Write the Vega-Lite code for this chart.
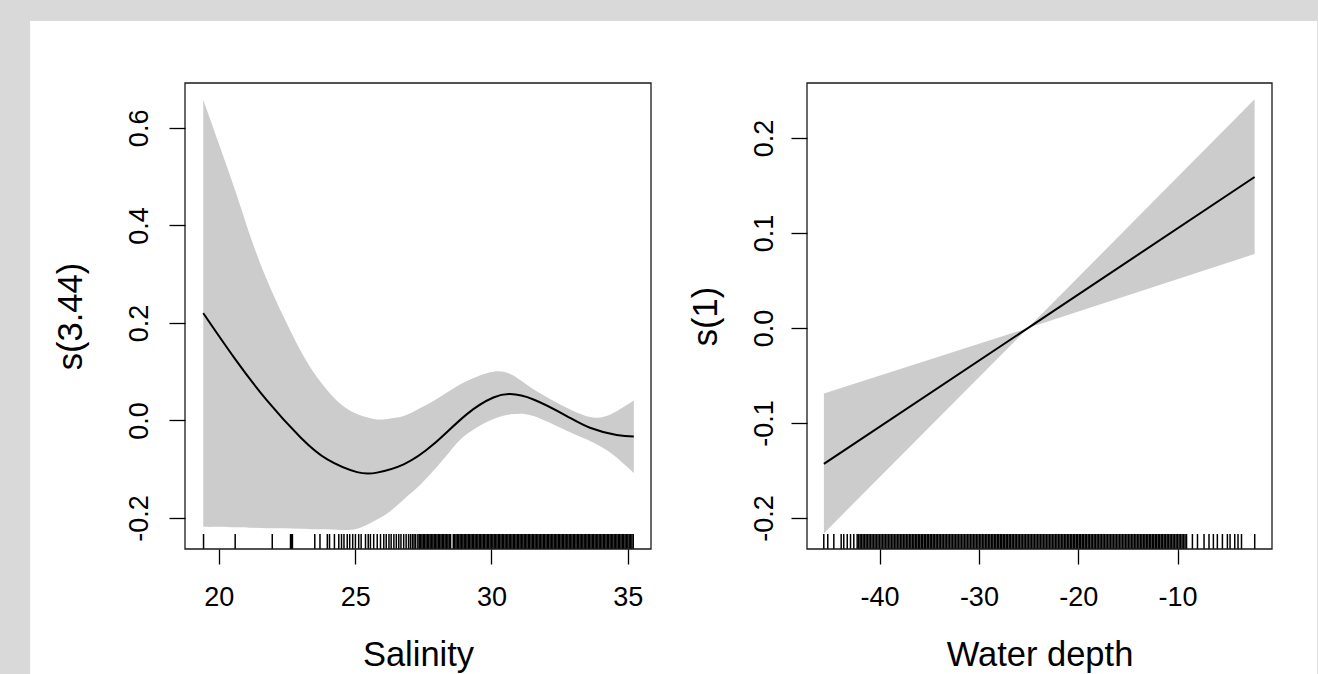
{
  "$schema": "https://vega.github.io/schema/vega-lite/v6.json",
  "background": "#d9d9d9",
  "padding": {"left": 30, "top": 20, "right": 0, "bottom": 0},
  "autosize": {"type": "pad"},
  "bounds": "flush",
  "spacing": 156,
  "config": {
    "font": "Liberation Sans",
    "view": {"stroke": null},
    "axis": {
      "domain": false, "grid": false, "zindex": 1,
      "tickColor": "black", "tickWidth": 1.3,
      "labelColor": "black", "labelFont": "Liberation Sans", "labelFontSize": 27,
      "titleColor": "black", "titleFont": "Liberation Sans", "titleFontSize": 34.5, "titleFontWeight": "normal",
      "labelFlush": false, "labelOverlap": false
    },
    "axisX": {"tickSize": 15, "labelPadding": 20, "titlePadding": 28},
    "axisY": {"tickSize": 16, "labelAngle": -90, "labelAlign": "center", "labelBaseline": "alphabetic", "labelPadding": 22, "titlePadding": 27}
  },
  "datasets": {
    "salFit": [
      {"Salinity": 19.43, "fit": 0.220}, {"Salinity": 20.56, "fit": 0.129}, {"Salinity": 21.78, "fit": 0.040},
      {"Salinity": 23.00, "fit": -0.035}, {"Salinity": 23.98, "fit": -0.080}, {"Salinity": 25.07, "fit": -0.106},
      {"Salinity": 25.80, "fit": -0.107}, {"Salinity": 26.78, "fit": -0.090}, {"Salinity": 27.87, "fit": -0.049},
      {"Salinity": 29.10, "fit": 0.013}, {"Salinity": 30.07, "fit": 0.047}, {"Salinity": 30.68, "fit": 0.054},
      {"Salinity": 31.54, "fit": 0.043}, {"Salinity": 32.76, "fit": 0.009}, {"Salinity": 33.61, "fit": -0.015},
      {"Salinity": 34.59, "fit": -0.030}, {"Salinity": 35.22, "fit": -0.033}
    ],
    "salBand": [
      {"Salinity": 19.43, "lower": -0.218, "upper": 0.657}, {"Salinity": 20.56, "lower": -0.219, "upper": 0.478},
      {"Salinity": 21.17, "lower": -0.220, "upper": 0.375}, {"Salinity": 21.78, "lower": -0.221, "upper": 0.286},
      {"Salinity": 22.39, "lower": -0.221, "upper": 0.211}, {"Salinity": 23.00, "lower": -0.222, "upper": 0.143},
      {"Salinity": 23.61, "lower": -0.223, "upper": 0.088}, {"Salinity": 24.34, "lower": -0.224, "upper": 0.040},
      {"Salinity": 25.07, "lower": -0.222, "upper": 0.013}, {"Salinity": 25.80, "lower": -0.203, "upper": 0.002},
      {"Salinity": 26.29, "lower": -0.186, "upper": 0.004}, {"Salinity": 26.78, "lower": -0.162, "upper": 0.009},
      {"Salinity": 27.27, "lower": -0.138, "upper": 0.022}, {"Salinity": 27.87, "lower": -0.103, "upper": 0.040},
      {"Salinity": 28.50, "lower": -0.062, "upper": 0.062}, {"Salinity": 29.10, "lower": -0.028, "upper": 0.081},
      {"Salinity": 30.07, "lower": 0.003, "upper": 0.100}, {"Salinity": 30.80, "lower": 0.013, "upper": 0.092},
      {"Salinity": 31.54, "lower": 0.009, "upper": 0.064}, {"Salinity": 32.76, "lower": -0.021, "upper": 0.026},
      {"Salinity": 33.73, "lower": -0.045, "upper": 0.006}, {"Salinity": 34.45, "lower": -0.070, "upper": 0.015},
      {"Salinity": 35.22, "lower": -0.108, "upper": 0.041}
    ],
    "salRug": [
      {"Salinity": 19.44}, {"Salinity": 20.6}, {"Salinity": 21.96}, {"Salinity": 22.63}, {"Salinity": 22.66}, {"Salinity": 22.7},
      {"Salinity": 23.52}, {"Salinity": 23.71}, {"Salinity": 23.98}, {"Salinity": 24.06}, {"Salinity": 24.24}, {"Salinity": 24.4},
      {"Salinity": 24.5}, {"Salinity": 24.59}, {"Salinity": 24.71}, {"Salinity": 24.8}, {"Salinity": 24.91}, {"Salinity": 25.01},
      {"Salinity": 25.13}, {"Salinity": 25.22}, {"Salinity": 25.38}, {"Salinity": 25.48}, {"Salinity": 25.56}, {"Salinity": 25.68},
      {"Salinity": 25.81}, {"Salinity": 25.93}, {"Salinity": 26.05}, {"Salinity": 26.14}, {"Salinity": 26.24}, {"Salinity": 26.32},
      {"Salinity": 26.42}, {"Salinity": 26.51}, {"Salinity": 26.6}, {"Salinity": 26.68}, {"Salinity": 26.78}, {"Salinity": 26.87},
      {"Salinity": 26.96}, {"Salinity": 27.03}, {"Salinity": 27.1}, {"Salinity": 27.16}, {"Salinity": 27.22},
      {"Salinity": 27.30}, {"Salinity": 27.35}, {"Salinity": 27.40}, {"Salinity": 27.45}, {"Salinity": 27.50}, {"Salinity": 27.55},
      {"Salinity": 27.60}, {"Salinity": 27.65}, {"Salinity": 27.70}, {"Salinity": 27.75}, {"Salinity": 27.80}, {"Salinity": 27.85},
      {"Salinity": 27.90}, {"Salinity": 27.95}, {"Salinity": 28.00}, {"Salinity": 28.05}, {"Salinity": 28.10}, {"Salinity": 28.15},
      {"Salinity": 28.20}, {"Salinity": 28.25}, {"Salinity": 28.30}, {"Salinity": 28.35}, {"Salinity": 28.40}, {"Salinity": 28.45},
      {"Salinity": 28.50}, {"Salinity": 28.60}, {"Salinity": 28.65}, {"Salinity": 28.70}, {"Salinity": 28.75},
      {"Salinity": 28.80}, {"Salinity": 28.85}, {"Salinity": 28.90}, {"Salinity": 28.95}, {"Salinity": 29.00}, {"Salinity": 29.05},
      {"Salinity": 29.10}, {"Salinity": 29.15}, {"Salinity": 29.20}, {"Salinity": 29.25}, {"Salinity": 29.30}, {"Salinity": 29.35},
      {"Salinity": 29.40}, {"Salinity": 29.45}, {"Salinity": 29.50}, {"Salinity": 29.55}, {"Salinity": 29.60}, {"Salinity": 29.65},
      {"Salinity": 29.70}, {"Salinity": 29.75}, {"Salinity": 29.80}, {"Salinity": 29.85}, {"Salinity": 29.90}, {"Salinity": 29.95},
      {"Salinity": 30.00}, {"Salinity": 30.05}, {"Salinity": 30.10}, {"Salinity": 30.15}, {"Salinity": 30.20}, {"Salinity": 30.25},
      {"Salinity": 30.30}, {"Salinity": 30.35}, {"Salinity": 30.40}, {"Salinity": 30.45}, {"Salinity": 30.50}, {"Salinity": 30.55},
      {"Salinity": 30.60}, {"Salinity": 30.65}, {"Salinity": 30.70}, {"Salinity": 30.75}, {"Salinity": 30.80}, {"Salinity": 30.85},
      {"Salinity": 30.90}, {"Salinity": 30.95}, {"Salinity": 31.00}, {"Salinity": 31.05}, {"Salinity": 31.10}, {"Salinity": 31.15},
      {"Salinity": 31.20}, {"Salinity": 31.25}, {"Salinity": 31.30}, {"Salinity": 31.35}, {"Salinity": 31.40}, {"Salinity": 31.45},
      {"Salinity": 31.50}, {"Salinity": 31.55}, {"Salinity": 31.60}, {"Salinity": 31.65}, {"Salinity": 31.70}, {"Salinity": 31.75},
      {"Salinity": 31.80}, {"Salinity": 31.85}, {"Salinity": 31.90}, {"Salinity": 31.95}, {"Salinity": 32.00}, {"Salinity": 32.05},
      {"Salinity": 32.10}, {"Salinity": 32.15}, {"Salinity": 32.20}, {"Salinity": 32.25}, {"Salinity": 32.30}, {"Salinity": 32.35},
      {"Salinity": 32.40}, {"Salinity": 32.45}, {"Salinity": 32.50}, {"Salinity": 32.55}, {"Salinity": 32.60}, {"Salinity": 32.65},
      {"Salinity": 32.70}, {"Salinity": 32.75}, {"Salinity": 32.80}, {"Salinity": 32.85}, {"Salinity": 32.90}, {"Salinity": 32.95},
      {"Salinity": 33.00}, {"Salinity": 33.05}, {"Salinity": 33.10}, {"Salinity": 33.15}, {"Salinity": 33.20}, {"Salinity": 33.25},
      {"Salinity": 33.30}, {"Salinity": 33.35}, {"Salinity": 33.40}, {"Salinity": 33.45}, {"Salinity": 33.50}, {"Salinity": 33.55},
      {"Salinity": 33.60}, {"Salinity": 33.65}, {"Salinity": 33.70}, {"Salinity": 33.75}, {"Salinity": 33.80}, {"Salinity": 33.85},
      {"Salinity": 33.90}, {"Salinity": 33.95}, {"Salinity": 34.00}, {"Salinity": 34.05}, {"Salinity": 34.10}, {"Salinity": 34.15},
      {"Salinity": 34.20}, {"Salinity": 34.25}, {"Salinity": 34.30}, {"Salinity": 34.35}, {"Salinity": 34.40}, {"Salinity": 34.45},
      {"Salinity": 34.50}, {"Salinity": 34.55}, {"Salinity": 34.60}, {"Salinity": 34.65}, {"Salinity": 34.70}, {"Salinity": 34.75},
      {"Salinity": 34.80}, {"Salinity": 34.85}, {"Salinity": 34.90}, {"Salinity": 34.95}, {"Salinity": 35.00}, {"Salinity": 35.05},
      {"Salinity": 35.10}, {"Salinity": 35.15}, {"Salinity": 35.20}
    ],
    "depFit": [
      {"depth": -45.6, "fit": -0.143}, {"depth": -25.07, "fit": 0.0}, {"depth": -2.25, "fit": 0.159}
    ],
    "depBand": [
      {"depth": -45.6, "lower": -0.216, "upper": -0.069}, {"depth": -25.07, "lower": 0.0, "upper": 0.0},
      {"depth": -2.25, "lower": 0.078, "upper": 0.241}
    ],
    "depRug": [
      {"depth": -45.61}, {"depth": -45.21}, {"depth": -44.6}, {"depth": -43.86}, {"depth": -43.6}, {"depth": -43.25},
      {"depth": -42.92}, {"depth": -42.59}, {"depth": -42.25},
      {"depth": -42.10}, {"depth": -41.95}, {"depth": -41.80}, {"depth": -41.65}, {"depth": -41.50}, {"depth": -41.35},
      {"depth": -41.20}, {"depth": -41.05}, {"depth": -40.90}, {"depth": -40.75}, {"depth": -40.60}, {"depth": -40.45},
      {"depth": -40.30}, {"depth": -40.15}, {"depth": -40.00}, {"depth": -39.85}, {"depth": -39.70}, {"depth": -39.55},
      {"depth": -39.40}, {"depth": -39.25}, {"depth": -39.10}, {"depth": -38.95}, {"depth": -38.80}, {"depth": -38.65},
      {"depth": -38.50}, {"depth": -38.35}, {"depth": -38.20}, {"depth": -38.05}, {"depth": -37.90}, {"depth": -37.75},
      {"depth": -37.60}, {"depth": -37.45}, {"depth": -37.30}, {"depth": -37.15}, {"depth": -37.00}, {"depth": -36.85},
      {"depth": -36.70}, {"depth": -36.55}, {"depth": -36.40}, {"depth": -36.25}, {"depth": -36.10}, {"depth": -35.95},
      {"depth": -35.80}, {"depth": -35.65}, {"depth": -35.50}, {"depth": -35.35}, {"depth": -35.20}, {"depth": -35.05},
      {"depth": -34.90}, {"depth": -34.75}, {"depth": -34.60}, {"depth": -34.45}, {"depth": -34.30}, {"depth": -34.15},
      {"depth": -34.00}, {"depth": -33.85}, {"depth": -33.70}, {"depth": -33.55}, {"depth": -33.40}, {"depth": -33.25},
      {"depth": -33.10}, {"depth": -32.95}, {"depth": -32.80}, {"depth": -32.65}, {"depth": -32.50}, {"depth": -32.35},
      {"depth": -32.20}, {"depth": -32.05}, {"depth": -31.90}, {"depth": -31.75}, {"depth": -31.60}, {"depth": -31.45},
      {"depth": -31.30}, {"depth": -31.15}, {"depth": -31.00}, {"depth": -30.85}, {"depth": -30.70}, {"depth": -30.55},
      {"depth": -30.40}, {"depth": -30.25}, {"depth": -30.10}, {"depth": -29.95}, {"depth": -29.80}, {"depth": -29.65},
      {"depth": -29.50}, {"depth": -29.35}, {"depth": -29.20}, {"depth": -29.05}, {"depth": -28.90}, {"depth": -28.75},
      {"depth": -28.60}, {"depth": -28.45}, {"depth": -28.30}, {"depth": -28.15}, {"depth": -28.00}, {"depth": -27.85},
      {"depth": -27.70}, {"depth": -27.55}, {"depth": -27.40}, {"depth": -27.25}, {"depth": -27.10}, {"depth": -26.95},
      {"depth": -26.80}, {"depth": -26.65}, {"depth": -26.50}, {"depth": -26.35}, {"depth": -26.20}, {"depth": -26.05},
      {"depth": -25.90}, {"depth": -25.75}, {"depth": -25.60}, {"depth": -25.45}, {"depth": -25.30}, {"depth": -25.15},
      {"depth": -25.00}, {"depth": -24.85}, {"depth": -24.70}, {"depth": -24.55}, {"depth": -24.40}, {"depth": -24.25},
      {"depth": -24.10}, {"depth": -23.95}, {"depth": -23.80}, {"depth": -23.65}, {"depth": -23.50}, {"depth": -23.35},
      {"depth": -23.20}, {"depth": -23.05}, {"depth": -22.90}, {"depth": -22.75}, {"depth": -22.60}, {"depth": -22.45},
      {"depth": -22.30}, {"depth": -22.15}, {"depth": -22.00}, {"depth": -21.85}, {"depth": -21.70}, {"depth": -21.55},
      {"depth": -21.40}, {"depth": -21.25}, {"depth": -21.10}, {"depth": -20.95}, {"depth": -20.80}, {"depth": -20.65},
      {"depth": -20.50}, {"depth": -20.35}, {"depth": -20.20}, {"depth": -20.05}, {"depth": -19.90}, {"depth": -19.75},
      {"depth": -19.60}, {"depth": -19.45}, {"depth": -19.30}, {"depth": -19.15}, {"depth": -19.00}, {"depth": -18.85},
      {"depth": -18.70}, {"depth": -18.55}, {"depth": -18.40}, {"depth": -18.25}, {"depth": -18.10}, {"depth": -17.95},
      {"depth": -17.80}, {"depth": -17.65}, {"depth": -17.50}, {"depth": -17.35}, {"depth": -17.20}, {"depth": -17.05},
      {"depth": -16.90}, {"depth": -16.75}, {"depth": -16.60}, {"depth": -16.45}, {"depth": -16.30}, {"depth": -16.15},
      {"depth": -16.00}, {"depth": -15.85}, {"depth": -15.70}, {"depth": -15.55}, {"depth": -15.40}, {"depth": -15.25},
      {"depth": -15.10}, {"depth": -14.95}, {"depth": -14.80}, {"depth": -14.65}, {"depth": -14.50}, {"depth": -14.35},
      {"depth": -14.20}, {"depth": -14.05}, {"depth": -13.90}, {"depth": -13.75}, {"depth": -13.60}, {"depth": -13.45},
      {"depth": -13.30}, {"depth": -13.15}, {"depth": -13.00}, {"depth": -12.85}, {"depth": -12.70}, {"depth": -12.55},
      {"depth": -12.40}, {"depth": -12.25}, {"depth": -12.10}, {"depth": -11.95}, {"depth": -11.80}, {"depth": -11.65},
      {"depth": -11.50}, {"depth": -11.35}, {"depth": -11.20}, {"depth": -11.05}, {"depth": -10.90}, {"depth": -10.75},
      {"depth": -10.60}, {"depth": -10.45}, {"depth": -10.30}, {"depth": -10.15}, {"depth": -10.00}, {"depth": -9.85},
      {"depth": -9.70}, {"depth": -9.55}, {"depth": -9.40}, {"depth": -9.25}, {"depth": -9.10},
      {"depth": -8.51}, {"depth": -8.0}, {"depth": -7.34}, {"depth": -6.84}, {"depth": -6.4}, {"depth": -6.0},
      {"depth": -5.49}, {"depth": -4.99}, {"depth": -4.72}, {"depth": -4.25}, {"depth": -3.92}, {"depth": -3.57},
      {"depth": -2.24}
    ]
  },
  "hconcat": [
    {
      "width": 466,
      "height": 466,
      "layer": [
        {
          "data": {"values": [{}]},
          "mark": {"type": "rect", "fill": "white", "stroke": null},
          "encoding": {
            "x": {"datum": 13.08, "type": "quantitative", "title": "Salinity", "scale": {"domain": [18.76, 35.85], "nice": false, "zero": false}},
            "x2": {"datum": 60.28},
            "y": {"datum": -0.52, "type": "quantitative", "title": "s(3.44)", "scale": {"domain": [-0.2636, 0.692], "nice": false, "zero": false}},
            "y2": {"datum": 0.8192}
          }
        },
        {
          "data": {"name": "salBand"},
          "mark": {"type": "area", "color": "#cccccc", "interpolate": "natural"},
          "encoding": {
            "x": {"field": "Salinity", "type": "quantitative", "title": "Salinity",
                  "scale": {"domain": [18.76, 35.85], "nice": false, "zero": false},
                  "axis": {"values": [20, 25, 30, 35], "zindex": 1}},
            "y": {"field": "lower", "type": "quantitative", "title": "s(3.44)",
                  "scale": {"domain": [-0.2636, 0.692], "nice": false, "zero": false},
                  "axis": {"values": [-0.2, 0, 0.2, 0.4, 0.6], "zindex": 1, "titlePadding": 37, "labelExpr": "replace(format(datum.value, '.1f'), '\u2212', '-')"}},
            "y2": {"field": "upper"}
          }
        },
        {
          "data": {"name": "salRug"},
          "mark": {"type": "rule", "color": "black", "strokeWidth": 1.5},
          "encoding": {
            "x": {"field": "Salinity", "type": "quantitative", "title": "Salinity", "scale": {"domain": [18.76, 35.85], "nice": false, "zero": false}},
            "y": {"datum": -0.2636, "type": "quantitative", "title": "s(3.44)", "scale": {"domain": [-0.2636, 0.692], "nice": false, "zero": false}},
            "y2": {"datum": -0.2328}
          }
        },
        {
          "data": {"name": "salFit"},
          "mark": {"type": "line", "color": "black", "strokeWidth": 2, "interpolate": "natural"},
          "encoding": {
            "x": {"field": "Salinity", "type": "quantitative", "title": "Salinity", "scale": {"domain": [18.76, 35.85], "nice": false, "zero": false}},
            "y": {"field": "fit", "type": "quantitative", "title": "s(3.44)", "scale": {"domain": [-0.2636, 0.692], "nice": false, "zero": false}}
          }
        },
        {
          "data": {"values": [{}]},
          "mark": {"type": "rect", "fill": "white", "fillOpacity": 0, "stroke": "#1a1a1a", "strokeWidth": 1.3},
          "encoding": {
            "x": {"datum": 18.76, "type": "quantitative", "title": "Salinity", "scale": {"domain": [18.76, 35.85], "nice": false, "zero": false}},
            "x2": {"datum": 35.85},
            "y": {"datum": -0.2636, "type": "quantitative", "title": "s(3.44)", "scale": {"domain": [-0.2636, 0.692], "nice": false, "zero": false}},
            "y2": {"datum": 0.692}
          }
        }
      ]
    },
    {
      "width": 465,
      "height": 466,
      "layer": [
        {
          "data": {"name": "depBand"},
          "mark": {"type": "area", "color": "#cccccc"},
          "encoding": {
            "x": {"field": "depth", "type": "quantitative", "title": "Water depth",
                  "scale": {"domain": [-47.3, -0.5], "nice": false, "zero": false},
                  "axis": {"values": [-40, -30, -20, -10], "zindex": 1, "labelExpr": "replace(datum.label, '\u2212', '-')"}},
            "y": {"field": "lower", "type": "quantitative", "title": "s(1)",
                  "scale": {"domain": [-0.2326, 0.258], "nice": false, "zero": false},
                  "axis": {"values": [-0.2, -0.1, 0, 0.1, 0.2], "zindex": 1, "labelPadding": 19, "labelExpr": "replace(format(datum.value, '.1f'), '\u2212', '-')"}},
            "y2": {"field": "upper"}
          }
        },
        {
          "data": {"name": "depRug"},
          "mark": {"type": "rule", "color": "black", "strokeWidth": 1.5},
          "encoding": {
            "x": {"field": "depth", "type": "quantitative", "title": "Water depth", "scale": {"domain": [-47.3, -0.5], "nice": false, "zero": false}},
            "y": {"datum": -0.2326, "type": "quantitative", "title": "s(1)", "scale": {"domain": [-0.2326, 0.258], "nice": false, "zero": false}},
            "y2": {"datum": -0.2168}
          }
        },
        {
          "data": {"name": "depFit"},
          "mark": {"type": "line", "color": "black", "strokeWidth": 2},
          "encoding": {
            "x": {"field": "depth", "type": "quantitative", "title": "Water depth", "scale": {"domain": [-47.3, -0.5], "nice": false, "zero": false}},
            "y": {"field": "fit", "type": "quantitative", "title": "s(1)", "scale": {"domain": [-0.2326, 0.258], "nice": false, "zero": false}}
          }
        },
        {
          "data": {"values": [{}]},
          "mark": {"type": "rect", "fill": "white", "fillOpacity": 0, "stroke": "#1a1a1a", "strokeWidth": 1.3},
          "encoding": {
            "x": {"datum": -47.3, "type": "quantitative", "title": "Water depth", "scale": {"domain": [-47.3, -0.5], "nice": false, "zero": false}},
            "x2": {"datum": -0.5},
            "y": {"datum": -0.2326, "type": "quantitative", "title": "s(1)", "scale": {"domain": [-0.2326, 0.258], "nice": false, "zero": false}},
            "y2": {"datum": 0.258}
          }
        }
      ]
    }
  ]
}
